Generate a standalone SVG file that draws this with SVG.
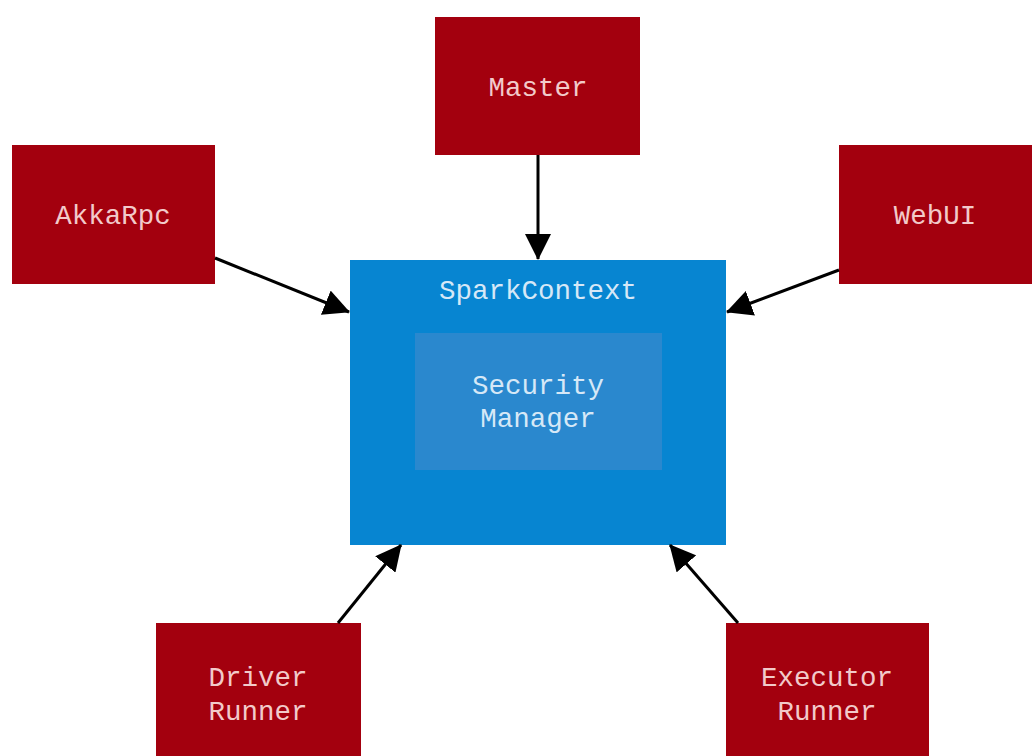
<svg xmlns="http://www.w3.org/2000/svg" width="1032" height="756" viewBox="0 0 1032 756">
  <style>
    .peer { fill: #A3000E; }
    .peer-label { fill: #F2CACA; font-family: "Liberation Mono", "Courier New", monospace; font-size: 27.5px; text-anchor: middle; }
    .ctx { fill: #0785D1; }
    .inner { fill: #2A88CE; }
    .ctx-label { fill: #D6E8F7; font-family: "Liberation Mono", "Courier New", monospace; font-size: 27.5px; text-anchor: middle; }
    .link { stroke: #000; stroke-width: 3; fill: none; marker-end: url(#head); }
  </style>
  <defs>
    <marker id="head" markerUnits="userSpaceOnUse" markerWidth="26" markerHeight="26" viewBox="0 0 26 26" refX="25" refY="13" orient="auto">
      <path d="M0,0 L26,13 L0,26 Z" fill="#000"/>
    </marker>
  </defs>
  <rect width="1032" height="756" fill="#fff"/>

  <g id="spark-context">
    <rect class="ctx" x="350" y="260" width="376" height="285"/>
    <text class="ctx-label" x="538" y="299">SparkContext</text>
    <g id="security-manager">
      <rect class="inner" x="415" y="333" width="247" height="137"/>
      <text class="ctx-label" x="538" y="394">Security</text>
      <text class="ctx-label" x="538" y="427">Manager</text>
    </g>
  </g>

  <g id="master">
    <rect class="peer" x="435" y="17" width="205" height="138"/>
    <text class="peer-label" x="538" y="96">Master</text>
  </g>

  <g id="akka-rpc">
    <rect class="peer" x="12" y="145" width="203" height="139"/>
    <text class="peer-label" x="113" y="224">AkkaRpc</text>
  </g>

  <g id="web-ui">
    <rect class="peer" x="839" y="145" width="200" height="139"/>
    <text class="peer-label" x="935" y="224">WebUI</text>
  </g>

  <g id="driver-runner">
    <rect class="peer" x="156" y="623" width="205" height="140"/>
    <text class="peer-label" x="258" y="686">Driver</text>
    <text class="peer-label" x="258" y="720">Runner</text>
  </g>

  <g id="executor-runner">
    <rect class="peer" x="726" y="623" width="203" height="140"/>
    <text class="peer-label" x="827" y="686">Executor</text>
    <text class="peer-label" x="827" y="720">Runner</text>
  </g>

  <g id="connectors">
    <line class="link" x1="538" y1="155" x2="538" y2="259"/>
    <line class="link" x1="215" y1="258" x2="349" y2="312"/>
    <line class="link" x1="839" y1="270" x2="727" y2="312"/>
    <line class="link" x1="338" y1="623" x2="401" y2="545"/>
    <line class="link" x1="738" y1="623" x2="670" y2="545"/>
  </g>
</svg>
